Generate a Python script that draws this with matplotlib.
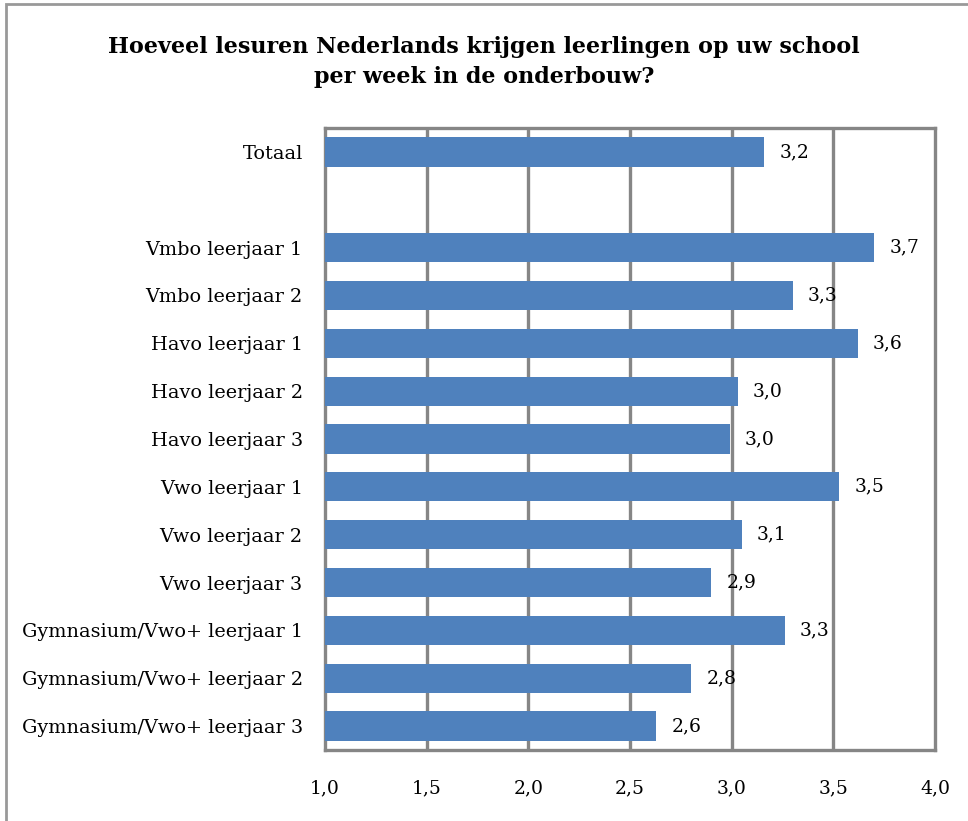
import matplotlib
matplotlib.use("Agg")
import matplotlib.pyplot as plt
from matplotlib.patches import Rectangle

# data (top to bottom, "" is the empty gap row)
categories = ["Totaal", "",
	"Vmbo leerjaar 1", "Vmbo leerjaar 2",
	"Havo leerjaar 1", "Havo leerjaar 2", "Havo leerjaar 3",
	"Vwo leerjaar 1", "Vwo leerjaar 2", "Vwo leerjaar 3",
	"Gymnasium/Vwo+ leerjaar 1", "Gymnasium/Vwo+ leerjaar 2", "Gymnasium/Vwo+ leerjaar 3"]
values = [3.16, None, 3.70, 3.30, 3.62, 3.03, 2.99, 3.53, 3.05, 2.90, 3.26, 2.80, 2.63]
value_labels = ["3,2", "", "3,7", "3,3", "3,6", "3,0", "3,0", "3,5", "3,1", "2,9", "3,3", "2,8", "2,6"]
xticks = [1.0, 1.5, 2.0, 2.5, 3.0, 3.5, 4.0]
xtick_labels = ["1,0", "1,5", "2,0", "2,5", "3,0", "3,5", "4,0"]

bar_color = "#4F81BD"
grid_color = "#868686"
font = "DejaVu Serif"

fig = plt.figure(figsize=(9.68, 8.21), dpi=100)
# outer chart border
fig.patches.append(Rectangle((0.006, -0.02), 1.1, 1.015, transform=fig.transFigure,
	fill=False, edgecolor="#999999", linewidth=2))

ax = fig.add_axes([325/968, 1 - 750/821, (935 - 325)/968, (750 - 128)/821])

ypos = list(range(len(categories)))
for i, v in enumerate(values):
	if v is None:
		continue
	ax.barh(ypos[i], v - 1.0, left=1.0, height=0.61, color=bar_color, zorder=3)
	ax.text(v + 0.075, ypos[i], value_labels[i], va="center", ha="left",
		fontsize=13.5, family=font, zorder=4)

ax.set_xlim(1.0, 4.0)
ax.set_ylim(len(categories) - 0.5, -0.5)
ax.set_xticks(xticks)
ax.set_xticklabels(xtick_labels, family=font, fontsize=13.5)
ax.set_yticks(ypos)
ax.set_yticklabels(categories, family=font, fontsize=13.9)
ax.tick_params(axis="both", length=0)
ax.tick_params(axis="x", pad=21)
ax.tick_params(axis="y", pad=16)

for x in xticks[1:-1]:
	ax.axvline(x, color=grid_color, linewidth=2.4, zorder=1)
for s in ax.spines.values():
	s.set_color(grid_color)
	s.set_linewidth(2.4)

fig.text(0.5, 1 - 62/821, "Hoeveel lesuren Nederlands krijgen leerlingen op uw school\nper week in de onderbouw?",
	ha="center", va="center", fontsize=16, fontweight="bold", family=font, linespacing=1.45)

fig.savefig("out.png", dpi=100)
